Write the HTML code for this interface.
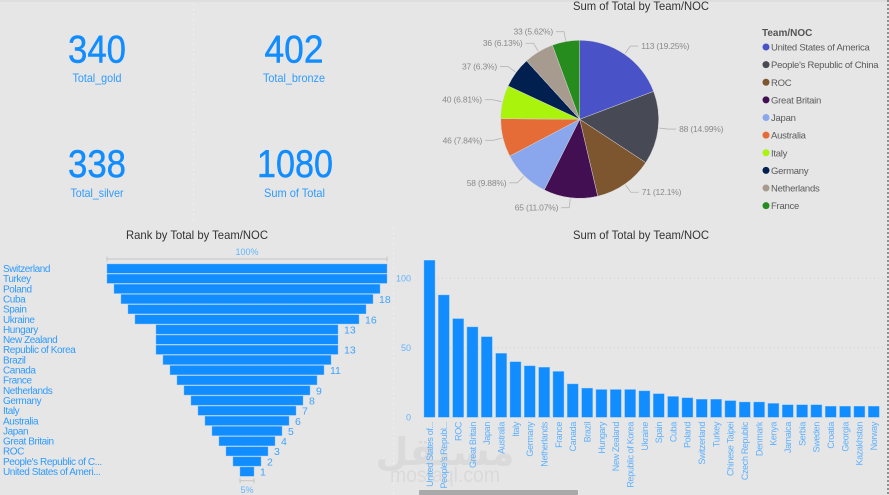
<!DOCTYPE html>
<html lang="en">
<head>
<meta charset="utf-8">
<title>Olympics Medal Dashboard</title>
<style>
html,body{margin:0;padding:0;background:#e6e6e6;}
body{width:889px;height:495px;overflow:hidden;}
svg{display:block;font-family:"Liberation Sans","DejaVu Sans",sans-serif;}
.kpi{fill:#118dff;stroke:#118dff;stroke-width:.45px;font-size:39px;text-anchor:middle;}
.kpl{fill:#2e9bff;font-size:12px;text-anchor:middle;}
.ttl{fill:#333;font-size:12px;}
.cat{fill:#2e9bff;font-size:10px;letter-spacing:-.42px;}
.val{fill:#3fa3ff;font-size:10.5px;}
.tick{fill:#62b4ff;font-size:9px;}
.xl{fill:#5cb0ff;font-size:9px;letter-spacing:-.35px;}
.pl{fill:#8a8a8a;font-size:8.5px;letter-spacing:-.2px;}
.lg{fill:#5a5a5a;font-size:9.5px;letter-spacing:-.25px;}
</style>
</head>
<body>
<svg id="dash" width="889" height="495" viewBox="0 0 889 495" xmlns="http://www.w3.org/2000/svg">
  <rect x="0" y="0" width="889" height="495" fill="#e6e6e6"/>
  <rect x="0" y="0" width="889" height="2" fill="#dedede"/>
  <line x1="193.5" y1="4" x2="193.5" y2="224" stroke="#f6f6f6" stroke-width="1" stroke-dasharray="1 4"/>
  <line x1="393.5" y1="228" x2="393.5" y2="495" stroke="#f6f6f6" stroke-width="1" stroke-dasharray="1 4"/>
  <line x1="888" y1="0" x2="888" y2="495" stroke="#555" stroke-width="1.2" stroke-dasharray="2 2"/>

  <g>
    <text x="445" y="465" text-anchor="middle" font-size="38" font-weight="700" fill="#dadada" font-family="'DejaVu Sans',sans-serif">مستقل</text>
    <text x="445" y="482" text-anchor="middle" font-size="21" fill="#dadada" textLength="110" lengthAdjust="spacingAndGlyphs">mostaql.com</text>
  </g>

  <g>
    <text class="kpi" x="97" y="62.5" textLength="58" lengthAdjust="spacingAndGlyphs">340</text>
    <text class="kpl" x="97" y="82" textLength="49" lengthAdjust="spacingAndGlyphs">Total_gold</text>
  </g>
  <g>
    <text class="kpi" x="294" y="62.5" textLength="59" lengthAdjust="spacingAndGlyphs">402</text>
    <text class="kpl" x="294" y="82" textLength="62" lengthAdjust="spacingAndGlyphs">Total_bronze</text>
  </g>
  <g>
    <text class="kpi" x="97" y="177" textLength="58" lengthAdjust="spacingAndGlyphs">338</text>
    <text class="kpl" x="97" y="197" textLength="53" lengthAdjust="spacingAndGlyphs">Total_silver</text>
  </g>
  <g>
    <text class="kpi" x="295" y="177" textLength="76" lengthAdjust="spacingAndGlyphs">1080</text>
    <text class="kpl" x="294.5" y="197" textLength="61" lengthAdjust="spacingAndGlyphs">Sum of Total</text>
  </g>

  <text class="ttl" x="573" y="10" textLength="136" lengthAdjust="spacingAndGlyphs">Sum of Total by Team/NOC</text>
  <text class="ttl" x="126" y="239" textLength="142" lengthAdjust="spacingAndGlyphs">Rank by Total by Team/NOC</text>
  <text class="ttl" x="573" y="239" textLength="136" lengthAdjust="spacingAndGlyphs">Sum of Total by Team/NOC</text>

  <g id="pie"></g>
  <g id="legend">
    <text x="762" y="36" font-size="10" font-weight="700" fill="#555">Team/NOC</text>
  </g>
  <g id="funnel"></g>
  <g id="bars"></g>

  <rect x="419" y="490" width="159" height="5" rx="1" fill="#a9a9a9"/>
</svg>

<script>
// ---------- Pie chart data ----------
const pieCategories = ["United States of America","People's Republic of China","ROC","Great Britain","Japan","Australia","Italy","Germany","Netherlands","France"];
const pieValues = [113,88,71,65,58,46,40,37,36,33];
const piePercentLabels = ["19.25%","14.99%","12.1%","11.07%","9.88%","7.84%","6.81%","6.3%","6.13%","5.62%"];
const pieColors = ["#4a52c7","#474a54","#7d562f","#420f53","#8aa6ec","#e66c37","#a9f30d","#012050","#a69b8e","#268c1d"];

// ---------- Funnel chart data ----------
const funnelCategories = ["Switzerland","Turkey","Poland","Cuba","Spain","Ukraine","Hungary","New Zealand","Republic of Korea","Brazil","Canada","France","Netherlands","Germany","Italy","Australia","Japan","Great Britain","ROC","People's Republic of C...","United States of Ameri..."];
const funnelValues = [20,20,19,18,17,16,13,13,13,12,11,10,9,8,7,6,5,4,3,2,1];
const funnelHiddenLabels = ["Switzerland","Turkey","Poland","Spain","New Zealand","Brazil","France"];
const funnelTopLabel = "100%";
const funnelBottomLabel = "5%";

// ---------- Bar chart data ----------
const barCategories = ["United States of...","People's Republ...","ROC","Great Britain","Japan","Australia","Italy","Germany","Netherlands","France","Canada","Brazil","Hungary","New Zealand","Republic of Korea","Ukraine","Spain","Cuba","Poland","Switzerland","Turkey","Chinese Taipei","Czech Republic","Denmark","Kenya","Jamaica","Serbia","Sweden","Croatia","Georgia","Kazakhstan","Norway"];
const barValues = [113,88,71,65,58,46,40,37,36,33,24,21,20,20,20,19,17,15,14,13,13,12,11,11,10,9,9,9,8,8,8,8];
const barTicks = [0,50,100];

const NS = "http://www.w3.org/2000/svg";
function make(tag, attrs, parent, text) {
  const n = document.createElementNS(NS, tag);
  for (const k in attrs) n.setAttribute(k, attrs[k]);
  if (text !== undefined) n.textContent = text;
  parent.appendChild(n);
  return n;
}
function slug(s) {
  return s.toLowerCase().replace(/[^a-z0-9]+/g, "-").replace(/^-|-$/g, "");
}

// ---------- Pie ----------
const pieG = document.getElementById("pie");
const legendG = document.getElementById("legend");
const pieCx = 579.7, pieCy = 119.3, pieR = 79;
const pieTotal = pieValues.reduce((a, b) => a + b, 0);
function piePoint(share, r) {
  const ang = share * 2 * Math.PI;
  return [pieCx + r * Math.sin(ang), pieCy - r * Math.cos(ang)];
}
let pieCum = 0;
pieValues.forEach(function (v, i) {
  const a = pieCum / pieTotal, b = (pieCum + v) / pieTotal, m = (a + b) / 2;
  pieCum += v;
  const p0 = piePoint(a, pieR), p1 = piePoint(b, pieR);
  const slice = make("path", {
    d: "M" + pieCx + " " + pieCy + "L" + p0[0] + " " + p0[1] + "A" + pieR + " " + pieR + " 0 " + (b - a > 0.5 ? 1 : 0) + " 1 " + p1[0] + " " + p1[1] + "Z",
    fill: pieColors[i], stroke: "#d5d5d5", "stroke-width": 0.5
  }, pieG);
  
  

  const s = piePoint(m, pieR + 1), e = piePoint(m, pieR + 10);
  const right = Math.sin(m * 2 * Math.PI) >= 0;
  const hx = e[0] + (right ? 8 : -8);
  const leader = make("polyline", {
    points: s[0] + "," + s[1] + " " + e[0] + "," + e[1] + " " + hx + "," + e[1],
    fill: "none", stroke: "#b5b5b5", "stroke-width": 0.8
  }, pieG);
  
  

  const lab = make("text", {
    class: "pl", x: hx + (right ? 3 : -3), y: e[1] + 3,
    "text-anchor": right ? "start" : "end"
  }, pieG, v + " (" + piePercentLabels[i] + ")");
  
  

  const ly = 47 + i * 17.63;
  const dot = make("circle", { cx: 766, cy: ly, r: 3.5, fill: pieColors[i] }, legendG);
  
  
  const lt = make("text", { class: "lg", x: 771, y: ly + 3.5 }, legendG, pieCategories[i]);
  
  
});

// ---------- Funnel ----------
const funnelG = document.getElementById("funnel");
const funnelCx = 247, funnelUnit = 14, funnelTop = 264, funnelPitch = 10.15, funnelBarH = 9.2;
function funnelHalf(v) { return v * funnelUnit / 2; }
function funnelY(i) { return funnelTop + i * funnelPitch; }
const maxFunnel = Math.max.apply(null, funnelValues);
const minFunnel = Math.min.apply(null, funnelValues);

function funnelBracket(y, half, name) {
  const b = make("path", {
    d: "M" + (funnelCx - half) + " " + (y - 2.5) + "V" + (y + 2.5) + "M" + (funnelCx - half) + " " + y + "H" + (funnelCx + half) + "M" + (funnelCx + half) + " " + (y - 2.5) + "V" + (y + 2.5),
    fill: "none", stroke: "#c4c4c4", "stroke-width": 1
  }, funnelG);
  
  
}
funnelBracket(259, funnelHalf(maxFunnel), 'funnel-top-bracket');
const topLab = make("text", { class: "tick", x: funnelCx, y: 255, "text-anchor": "middle" }, funnelG, funnelTopLabel);



funnelValues.forEach(function (v, i) {
  const y = funnelY(i), h = funnelHalf(v);
  const bar = make("rect", {
    x: funnelCx - h, y: y, width: 2 * h, height: funnelBarH,
    fill: "#118dff", stroke: "#6db9ff", "stroke-width": 0.4
  }, funnelG);
  
  

  const c = make("text", { class: "cat", x: 3, y: y + 8 }, funnelG, funnelCategories[i]);
  
  

  if (funnelHiddenLabels.indexOf(funnelCategories[i]) === -1) {
    const t = make("text", { class: "val", x: funnelCx + h + 6, y: y + 8.5 }, funnelG, String(v));
    
    
  }
});

funnelBracket(480.7, funnelHalf(minFunnel), 'funnel-bottom-bracket');
const botLab = make("text", { class: "tick", x: funnelCx, y: 493, "text-anchor": "middle" }, funnelG, funnelBottomLabel);



// ---------- Bars ----------
const barsG = document.getElementById("bars");
const barBase = 417.3, barUnit = 1.39, barStart = 424, barPitch = 14.33, barW = 11;
function barY(v) { return barBase - v * barUnit; }
function barX(i) { return barStart + i * barPitch; }

barTicks.forEach(function (t) {
  const g = make("line", {
    x1: 438, x2: 886, y1: barY(t), y2: barY(t),
    stroke: "#d2d2d2", "stroke-width": 1, "stroke-dasharray": "1 3"
  }, barsG);
  
  
  const l = make("text", { class: "tick", x: 411, y: barY(t) + 3.2, "text-anchor": "end" }, barsG, String(t));
  
  
});

barValues.forEach(function (v, i) {
  const x = barX(i);
  const bar = make("rect", {
    x: x, y: barY(v), width: barW, height: barBase - barY(v),
    fill: "#118dff", stroke: "#7cc0ff", "stroke-width": 0.4
  }, barsG);
  
  

  const cx = x + barW / 2 + 3.3;
  const l = make("text", {
    class: "xl", x: cx, y: 422, "text-anchor": "end",
    transform: "rotate(-90 " + cx + " 422)"
  }, barsG, barCategories[i]);
  
  
});
</script>
</body>
</html>
